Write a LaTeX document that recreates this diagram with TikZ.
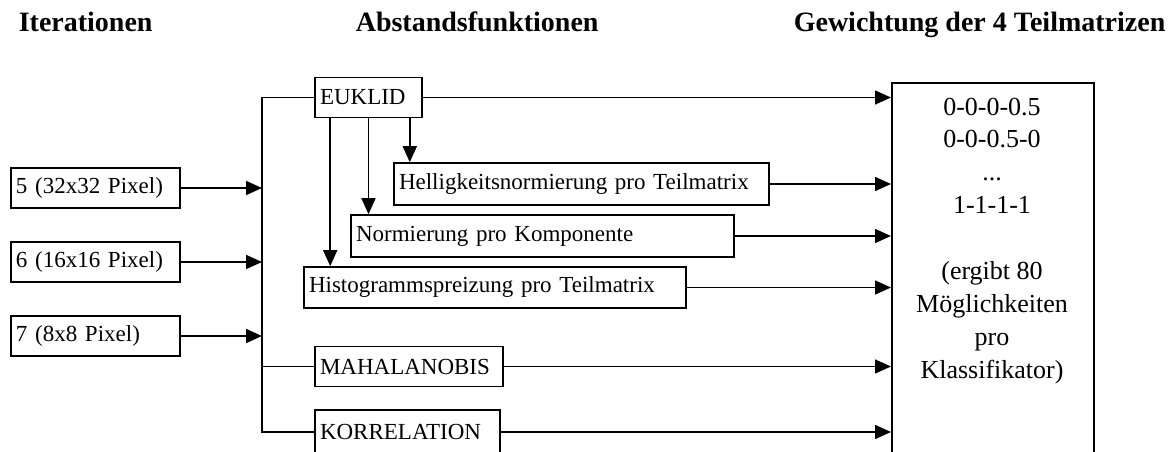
\documentclass[tikz,border=0pt]{standalone}
\usepackage{fontspec}
\setmainfont{Liberation Serif}
\usetikzlibrary{arrows.meta,positioning,calc}

\begin{document}
\begin{tikzpicture}[x=1pt,y=-1pt,line width=1.6pt,
  box/.style={draw, inner xsep=5pt, inner ysep=0pt, minimum height=40pt, align=left, font=\fontsize{23}{27}\selectfont},
  head/.style={font=\bfseries\fontsize{28}{32}\selectfont, anchor=base west, inner sep=0pt},
  arr/.style={-{Triangle[length=16pt,width=14pt]}}]
\useasboundingbox (0,0) rectangle (1175,452);

% Ueberschriften
\node[head] (h1) at (18,32) {Iterationen};
\node[head] (h2) at (355,32) {Abstandsfunktionen};
\node[head] (h3) at (793,32) {Gewichtung der 4 Teilmatrizen};

% Iterationen
\node[box, text width=159pt] (it5) at (95.5,188) {5 (32x32 Pixel)};
\node[box, text width=159pt] (it6) at (95.5,262) {6 (16x16 Pixel)};
\node[box, text width=159pt] (it7) at (95.5,336) {7 (8x8 Pixel)};

% Abstandsfunktionen
\node[box, text width=97pt] (euklid) at (368.5,97.5) {EUKLID};
\node[box, text width=365pt, minimum height=42pt] (hell) at (581.5,184) {Helligkeitsnormierung pro Teilmatrix};
\node[box, text width=373pt, minimum height=42pt] (norm) at (542.5,236) {Normierung pro Komponente};
\node[box, text width=372pt, minimum height=41pt] (hist) at (495,287.5) {Histogrammspreizung pro Teilmatrix};
\node[box, text width=178pt] (mahal) at (409,366.5) {MAHALANOBIS};
\node[box, text width=175pt, minimum height=44pt] (korr) at (407.5,432) {KORRELATION};

% Gewichtung
\node[draw, minimum width=202pt, minimum height=400pt, anchor=north west, inner sep=0pt] (gew) at (891,82) {};
\node[font=\fontsize{26}{32.9}\selectfont, align=center, anchor=north, inner sep=0pt] (gewtext) at (992,97)
  {0-0-0-0.5\\0-0-0.5-0\\...\\1-1-1-1\\[32.9pt](ergibt 80\\Möglichkeiten\\pro\\Klassifikator)};

% Sammelschiene
\coordinate (bus) at (262,0);
\draw (euklid.west) -- (euklid.west -| bus) -- (korr.west -| bus) -- (korr.west);
\draw (mahal.west) -- (mahal.west -| bus);
\foreach \n in {it5,it6,it7}
  \draw[arr] (\n.east) -- (\n.east -| bus);

% Varianten von EUKLID
\draw[arr] (euklid.south west) ++(16,0) coordinate (e1) -- (e1 |- hist.north);
\draw[arr] (euklid.south) -- (euklid.south |- norm.north);
\draw[arr] (euklid.south east) ++(-13,0) coordinate (e3) -- (e3 |- hell.north);

\foreach \n in {euklid,hell,norm,hist,mahal,korr}
  \draw[arr] (\n.east) -- (\n.east -| gew.west);
\end{tikzpicture}
\end{document}
